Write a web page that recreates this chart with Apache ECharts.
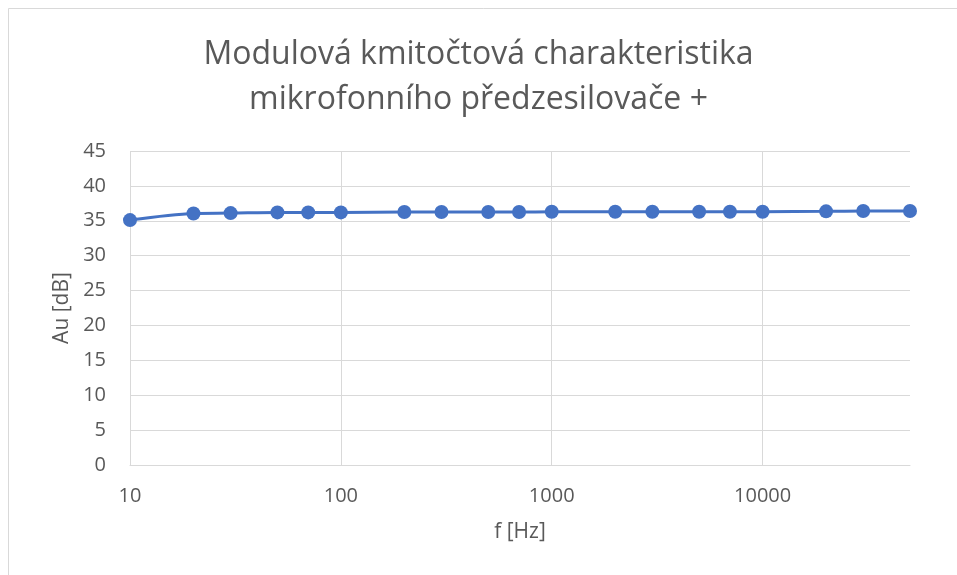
<!DOCTYPE html>
<html lang="cs">
<head>
    <meta charset="UTF-8">
    <title>Modulová kmitočtová charakteristika</title>
    <style>
        html, body { margin: 0; padding: 0; background: #fff; }
        #myEcharts { width: 957px; height: 575px; }
    </style>
    <script src="https://cdn.jsdelivr.net/npm/echarts@6/dist/echarts.min.js"></script>
</head>
<body>
<div id="myEcharts"></div>
<script>
    // frekvence [Hz]
    var freqs = [10, 20, 30, 50, 70, 100, 200, 300, 500, 700, 1000, 2000, 3000, 5000, 7000, 10000, 20000, 30000, 50000];
    // zesileni [dB]
    var gains = [35.1, 36.05, 36.1, 36.2, 36.2, 36.2, 36.25, 36.25, 36.25, 36.25, 36.3, 36.3, 36.3, 36.3, 36.3, 36.3, 36.35, 36.4, 36.4];
    var titleLines = ['Modulová kmitočtová charakteristika', 'mikrofonního předzesilovače +'];

    var points = [];
    for (var i = 0; i < freqs.length; i++) {
        points.push([freqs[i], gains[i]]);
    }

    var textColor = '#595959';
    var gridColor = '#d9d9d9';
    var font = '"Open Sans", "Liberation Sans", sans-serif';

    var myChart = echarts.init(document.getElementById('myEcharts'));
    var option = {
        animation: false,
        backgroundColor: '#fff',
        title: {
            text: titleLines.join('\n'),
            left: 'center',
            top: 27,
            textStyle: {
                color: textColor,
                fontSize: 32,
                fontWeight: 'normal',
                fontFamily: font,
                lineHeight: 45
            }
        },
        graphic: [{
            type: 'rect',
            shape: { x: 8.5, y: 8.5, width: 980, height: 600 },
            style: { fill: 'none', stroke: gridColor, lineWidth: 1 },
            silent: true
        }],
        grid: {
            left: 130,
            right: 47,
            top: 151,
            bottom: 110
        },
        xAxis: {
            type: 'log',
            logBase: 10,
            min: 10,
            max: 50000,
            name: 'f [Hz]',
            nameLocation: 'middle',
            nameGap: 57,
            nameTextStyle: { color: textColor, fontSize: 21, fontFamily: font },
            axisLine: { show: true, lineStyle: { color: gridColor, width: 1 } },
            axisTick: { show: false },
            axisLabel: {
                color: textColor,
                fontSize: 20,
                fontFamily: font,
                margin: 21,
                showMaxLabel: false,
                formatter: function (v) { return String(Math.round(v)); }
            },
            splitLine: {
                show: true,
                showMinLine: true,
                showMaxLine: false,
                lineStyle: { color: gridColor, width: 1 }
            }
        },
        yAxis: {
            type: 'value',
            min: 0,
            max: 45,
            interval: 5,
            name: 'Au [dB]',
            nameLocation: 'middle',
            nameGap: 57,
            nameRotate: 90,
            nameTextStyle: { color: textColor, fontSize: 21, fontFamily: font },
            axisLine: { show: false },
            axisTick: { show: false },
            axisLabel: { color: textColor, fontSize: 20, fontFamily: font, margin: 24 },
            splitLine: { lineStyle: { color: gridColor, width: 1 } }
        },
        series: [{
            type: 'line',
            data: points,
            smooth: 0.3,
            symbol: 'circle',
            symbolSize: 14,
            color: '#4472c4',
            lineStyle: { color: '#4472c4', width: 3 },
            itemStyle: { color: '#4472c4' }
        }]
    };
    myChart.setOption(option);
</script>
</body>
</html>
